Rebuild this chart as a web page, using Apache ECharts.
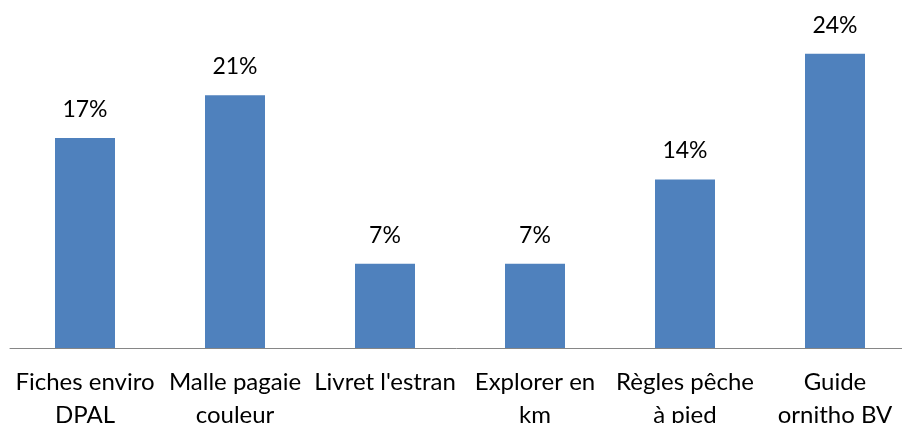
<!DOCTYPE html>
<html>
<head>
<meta charset="utf-8">
<script src="https://cdn.jsdelivr.net/npm/echarts@6/dist/echarts.min.js"></script>
<style>
  html, body { margin: 0; padding: 0; background: #fff; overflow: hidden; }
  #main { width: 902px; height: 423px; }
</style>
</head>
<body>
<div id="main"></div>
<script>
const categories = [
  "Fiches enviro\nDPAL",
  "Malle pagaie\ncouleur",
  "Livret l'estran",
  "Explorer en\nkm",
  "Règles pêche\nà pied",
  "Guide\nornitho BV"
];
// shares in percent (labels shown rounded)
const shares = [17.2, 20.7, 6.9, 6.9, 13.8, 24.1];

const myChart = echarts.init(document.getElementById("main"));
myChart.setOption({
  animation: false,
  textStyle: { fontFamily: "Lato" },
  grid: {
    left: 10, top: 6, width: 900, bottom: 75,
    containLabel: false,
    outerBoundsMode: "none"
  },
  xAxis: {
    type: "category",
    data: categories,
    axisLine: { lineStyle: { color: "#868686", width: 1 } },
    axisTick: { show: false },
    axisLabel: {
      interval: 0,
      color: "#000",
      fontSize: 24,
      lineHeight: 33,
      margin: 18
    }
  },
  yAxis: {
    type: "value",
    min: 0,
    max: 28,
    show: false,
    splitLine: { show: false }
  },
  series: [
    {
      type: "bar",
      data: shares,
      barWidth: 60,
      itemStyle: { color: "#4f81bd" },
      label: {
        show: true,
        position: "top",
        distance: 17,
        color: "#000",
        fontSize: 23,
        formatter: (p) => Math.round(p.value) + "%"
      }
    }
  ]
});
window.onresize = function() {
  myChart.resize();
};
</script>
</body>
</html>
